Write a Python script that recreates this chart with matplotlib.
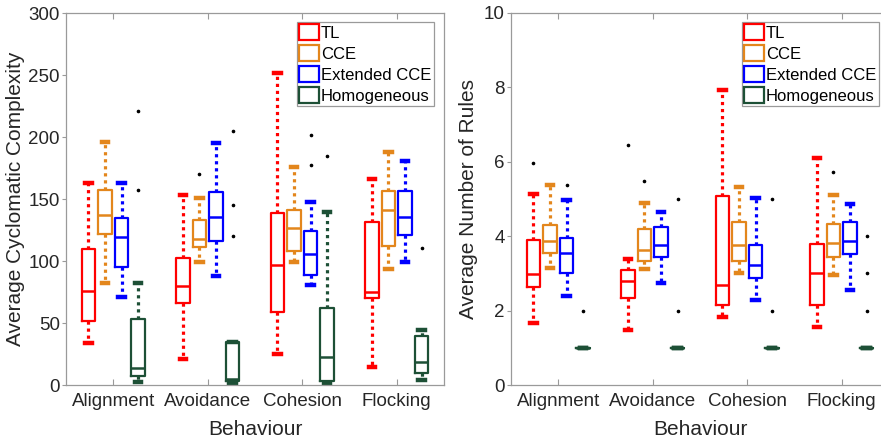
import matplotlib
matplotlib.use('Agg')
import matplotlib.pyplot as plt
from matplotlib.patches import Patch

plt.rcParams['font.family'] = ['Liberation Sans', 'DejaVu Sans']

behaviours = ['Alignment', 'Avoidance', 'Cohesion', 'Flocking']
methods = ['TL', 'CCE', 'Extended CCE', 'Homogeneous']
colors = ['#ff0000', '#e3861c', '#0000ff', '#1d5036']

# cyclomatic complexity: box stats per method, one value per behaviour
cc_whislo = [[33.6, 20.7, 25, 14.8], [82.6, 99, 99.3, 93.9], [71, 88, 80.5, 99.3], [2.2, 2, 2, 4]]
cc_q1 = [[51.9, 66.4, 58.9, 70], [121.6, 111.4, 108.4, 112.2], [95.5, 116.5, 88.5, 121], [7.3, 3.2, 3.5, 9.9]]
cc_med = [[75.9, 80.2, 96.9, 75.3], [137.2, 117.8, 126.4, 141.2], [119.2, 135.8, 105.5, 135.3], [14, 5, 22.3, 18.3]]
cc_q3 = [[110, 102.8, 138.6, 131.8], [157.6, 133.2, 141.5, 156.3], [134.5, 155.8, 124, 156.6], [53.3, 34.4, 62.4, 39.8]]
cc_whishi = [[163.3, 153, 251.6, 166], [195.6, 151.2, 176.2, 188], [162.5, 195, 147.5, 180.5], [82, 35, 139.4, 44.4]]
cc_fliers = [[[], [], [], []],
             [[], [170.3], [], []],
             [[], [], [202, 177.8], []],
             [[221, 157], [205, 145, 120], [184.3], [110.8]]]

# average number of rules
nr_whislo = [[1.67, 1.48, 1.83, 1.56], [3.14, 3.12, 3.02, 2.96], [2.40, 2.74, 2.28, 2.56], [1, 1, 1, 1]]
nr_q1 = [[2.64, 2.33, 2.14, 2.16], [3.55, 3.33, 3.33, 3.44], [3.01, 3.44, 2.88, 3.52], [1, 1, 1, 1]]
nr_med = [[2.99, 2.79, 2.70, 3.02], [3.88, 3.63, 3.75, 3.83], [3.55, 3.77, 3.23, 3.88], [1, 1, 1, 1]]
nr_q3 = [[3.90, 3.08, 5.07, 3.79], [4.31, 4.20, 4.38, 4.33], [3.94, 4.26, 3.77, 4.37], [1, 1, 1, 1]]
nr_whishi = [[5.13, 3.40, 7.92, 6.09], [5.37, 4.90, 5.31, 5.10], [4.96, 4.66, 5.03, 4.87], [1, 1, 1, 1]]
nr_fliers = [[[5.97], [6.46], [], []],
             [[], [5.48], [], [5.73]],
             [[5.38], [], [], []],
             [[2.0], [5.0, 2.0], [5.0, 2.0], [4.0, 3.0, 2.0]]]

offsets = [-0.2625, -0.0875, 0.0875, 0.2625]


def draw_panel(ax, whislo, q1, med, q3, whishi, fliers, ylim, yticks, ylabel, ylabel_x):
    for m in range(4):
        stats = []
        for b in range(4):
            stats.append(dict(whislo=whislo[m][b], q1=q1[m][b], med=med[m][b],
                              q3=q3[m][b], whishi=whishi[m][b], fliers=fliers[m][b]))
        pos = [b + 1 + offsets[m] for b in range(4)]
        c = colors[m]
        ax.bxp(stats, positions=pos, widths=0.145, capwidths=0.07, showfliers=True,
               manage_ticks=False,
               boxprops=dict(color=c, linewidth=1.6),
               medianprops=dict(color=c, linewidth=1.8),
               whiskerprops=dict(color=c, linewidth=2.3, linestyle=(0, (1, 1.2))),
               capprops=dict(color=c, linewidth=3.2),
               flierprops=dict(marker='o', markersize=1.6, markerfacecolor='black',
                               markeredgecolor='black', linestyle='none'))
    ax.set_xlim(0.5, 4.5)
    ax.set_ylim(*ylim)
    ax.set_yticks(yticks)
    ax.set_xticks(range(1, 5))
    ax.set_xticklabels(behaviours)
    for s in ax.spines.values():
        s.set_color('#9a9a9a')
        s.set_linewidth(0.9)
    ax.tick_params(axis='x', direction='in', top=True, length=4, color='#9a9a9a',
                   labelsize=13.5, labelcolor='#262626', pad=6)
    ax.tick_params(axis='y', direction='out', length=3, color='#9a9a9a',
                   labelsize=13.5, labelcolor='#262626', pad=1.5)
    ax.set_xlabel('Behaviour', fontsize=15, color='#262626')
    ax.set_ylabel(ylabel, fontsize=15, color='#262626')
    ax.xaxis.set_label_coords(0.5, -0.095)
    ax.yaxis.set_label_coords(ylabel_x, 0.5)
    handles = [Patch(facecolor='white', edgecolor=colors[i], linewidth=1.6) for i in range(4)]
    leg = ax.legend(handles, methods, loc='upper left', bbox_to_anchor=(0.611, 0.976),
                    fontsize=12, handlelength=1.2, handleheight=1.1, handletextpad=0.1,
                    labelspacing=0.25, borderpad=0.15, borderaxespad=0, fancybox=False,
                    framealpha=1)
    leg.get_frame().set_edgecolor('#9a9a9a')
    leg.get_frame().set_linewidth(0.9)


fig = plt.figure(figsize=(8.81, 4.44), dpi=100)
ax1 = fig.add_axes([66 / 881, 59 / 444, 378 / 881, 372 / 444])
ax2 = fig.add_axes([511 / 881, 59 / 444, 378 / 881, 372 / 444])

draw_panel(ax1, cc_whislo, cc_q1, cc_med, cc_q3, cc_whishi, cc_fliers,
           (0, 300), range(0, 301, 50), 'Average Cyclomatic Complexity', -0.108)
draw_panel(ax2, nr_whislo, nr_q1, nr_med, nr_q3, nr_whishi, nr_fliers,
           (0, 10), range(0, 11, 2), 'Average Number of Rules', -0.087)

fig.savefig('out.png', dpi=100)
